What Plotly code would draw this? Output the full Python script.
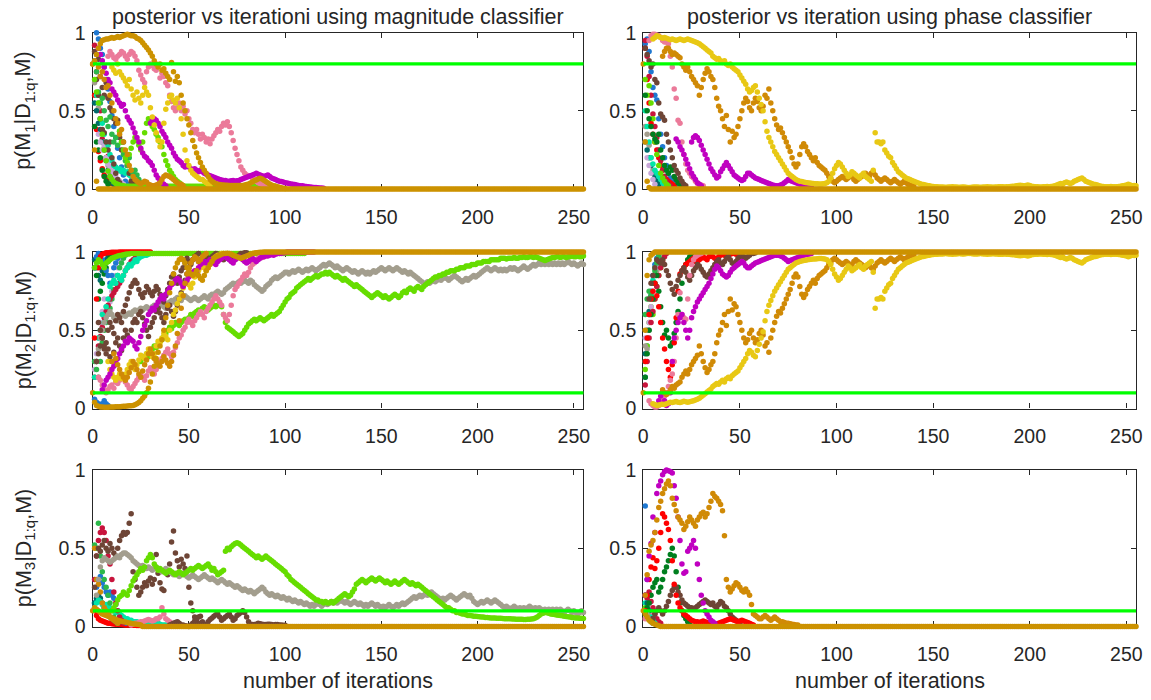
import plotly.graph_objects as go

N_ITER = 256
THRESHOLD = {"A": 0.8, "B": 0.8, "C": 0.1, "D": 0.1, "E": 0.1, "F": 0.1}
X_TICKS = [0, 50, 100, 150, 200, 250]
Y_TICKS = [0, 0.5, 1]
Y_TICK_TEXT = ["0", "0.5", "1"]
TITLES = ["posterior vs iterationi using magnitude classifier",
          "posterior vs iteration using phase classifier"]
Y_LABELS = ["p(M<sub>1</sub>|D<sub>1:q</sub>,M)",
            "p(M<sub>2</sub>|D<sub>1:q</sub>,M)",
            "p(M<sub>3</sub>|D<sub>1:q</sub>,M)"]
X_LABEL = "number of iterations"

A_blue = [0.82, 1.0, 0.96, 0.9, 0.86, 0.78, 0.7, 0.64, 0.56, 0.47, 0.4, 0.33, 0.26, 0.2, 0.14, 0.09, 0.05, 0.03, 0.02, 0.01]
A_red = [0.6, 0.38, 0.24, 0.18, 0.13, 0.09, 0.07, 0.05, 0.04, 0.035, 0.03, 0.028, 0.025, 0.022, 0.02, 0.018, 0.016, 0.014, 0.012, 0.011, 0.01, 0.009, 0.008, 0.007, 0.006, 0.005]
A_crimson = [0.92, 0.75, 0.6, 0.5, 0.32, 0.26, 0.2, 0.21, 0.12, 0.08, 0.05, 0.03, 0.02, 0.01]
A_gray = [0.68, 0.6, 0.52, 0.45, 0.35, 0.3, 0.2, 0.15, 0.1, 0.06, 0.04, 0.02]
A_teal = [0.55, 0.5, 0.42, 0.38, 0.3, 0.25, 0.18, 0.12, 0.08, 0.05, 0.03]
A_darkgreen = [0.4, 0.3, 0.25, 0.2, 0.12, 0.08, 0.05, 0.03]
A_lavender = [0.35, 0.3, 0.25, 0.28, 0.2, 0.16, 0.14, 0.12, 0.1, 0.08, 0.06, 0.05, 0.04, 0.03]
A_cyan = [0.6, 0.55, 0.45, 0.42, 0.35, 0.3, 0.28, 0.22, 0.18, 0.15, 0.14, 0.12, 0.13, 0.11, 0.12, 0.1, 0.11, 0.09, 0.08, 0.06, 0.05, 0.04, 0.03, 0.02]
A_brown = [0.88, 0.86, 0.83, 0.72, 0.65, 0.6, 0.68, 0.58, 0.52, 0.5, 0.45, 0.42, 0.44, 0.33, 0.25, 0.3, 0.22, 0.15, 0.1, 0.05, 0.03, 0.02, 0.01]
A_brown2 = [0.7, 0.6, 0.45, 0.38, 0.36, 0.3, 0.25, 0.3, 0.2, 0.16, 0.1, 0.06, 0.04, 0.02]
A_green = [0.75, 0.62, 0.55, 0.58, 0.5, 0.44, 0.4, 0.46, 0.35, 0.3, 0.33, 0.28, 0.37, 0.3, 0.22, 0.18, 0.15, 0.2, 0.12, 0.1, 0.12, 0.09, 0.06, 0.04, 0.02]
A_lime2 = [0.37, 0.3, 0.25, 0.2, 0.17, 0.22, 0.26, 0.3, 0.33, 0.31, 0.28, 0.25, 0.3, 0.36, 0.42, 0.45, 0.43, 0.4, 0.38, 0.35,
           0.33, 0.3, 0.27, 0.22, 0.18, 0.15, 0.12, 0.1, 0.08, 0.06, 0.05, 0.04, 0.03, 0.02]
A_lime = [0.7, 0.62, 0.55, 0.45, 0.35, 0.25, 0.18, 0.115, 0.08, 0.06, 0.045, 0.035, 0.03, 0.025, 0.022, 0.02]
A_pink = [0.85, 0.88, 0.86, 0.84, 0.83, 0.85, 0.86, 0.88, 0.87, 0.85, 0.83, 0.86, 0.88, 0.87, 0.85, 0.82, 0.76, 0.73, 0.7, 0.68,
          0.75, 0.78, 0.8, 0.79, 0.77, 0.76, 0.79, 0.71, 0.74, 0.72, 0.68, 0.66, 0.6, 0.56, 0.52, 0.5, 0.52, 0.55, 0.5, 0.53,
          0.48, 0.5, 0.45, 0.42, 0.38, 0.36, 0.38, 0.35, 0.32, 0.35, 0.33, 0.3, 0.32, 0.29, 0.32, 0.34, 0.36, 0.38, 0.37, 0.4,
          0.42, 0.41, 0.43, 0.4, 0.36, 0.31, 0.26, 0.22, 0.18, 0.14, 0.12, 0.1, 0.09, 0.085, 0.08, 0.07, 0.06, 0.05, 0.04, 0.035,
          0.03, 0.025, 0.02, 0.015]
A_magenta1 = [0.9, 0.86, 0.82, 0.78, 0.74, 0.7, 0.68, 0.64, 0.62, 0.6, 0.57, 0.55, 0.53, 0.54, 0.5, 0.46, 0.44, 0.42, 0.39, 0.36,
              0.33, 0.3, 0.26, 0.23, 0.21, 0.2, 0.18, 0.17, 0.15, 0.12, 0.09, 0.07, 0.05, 0.04, 0.03, 0.02]
A_magenta2 = [0.42, 0.44, 0.45, 0.44, 0.42, 0.4, 0.37, 0.35, 0.33, 0.3, 0.28, 0.26, 0.23, 0.21, 0.19, 0.18, 0.17, 0.15, 0.14, 0.15,
              0.14, 0.13, 0.12, 0.13, 0.12, 0.11, 0.12, 0.11, 0.1, 0.095, 0.09, 0.085, 0.08, 0.075, 0.07, 0.065, 0.06, 0.058, 0.055, 0.055,
              0.05, 0.05, 0.052, 0.055, 0.05, 0.052, 0.055, 0.06, 0.065, 0.07, 0.075, 0.08, 0.085, 0.09, 0.095, 0.1, 0.095, 0.09, 0.085, 0.08,
              0.085, 0.09, 0.08, 0.07, 0.065, 0.06, 0.055, 0.05, 0.048, 0.045, 0.04, 0.038, 0.035, 0.032, 0.03, 0.028, 0.025, 0.023, 0.021, 0.02,
              0.018, 0.016, 0.014, 0.012, 0.011, 0.01, 0.009, 0.008, 0.007, 0.006, 0.005]
A_yellow = [0.78, 0.76, 0.74, 0.8, 0.75, 0.73, 0.71, 0.69, 0.66, 0.7, 0.64, 0.6, 0.57, 0.62, 0.58, 0.55, 0.6, 0.65, 0.62, 0.6,
            0.52, 0.46, 0.41, 0.36, 0.31, 0.27, 0.3, 0.42, 0.51, 0.55, 0.59, 0.6, 0.57, 0.55, 0.58, 0.52, 0.45, 0.35, 0.25, 0.18,
            0.15, 0.12, 0.1, 0.09, 0.08, 0.07, 0.06, 0.06, 0.05, 0.04, 0.03, 0.02]
A_orange = [0.78, 0.72, 0.75, 0.7, 0.65, 0.66, 0.6, 0.55, 0.5, 0.45, 0.42, 0.35, 0.38, 0.3, 0.25, 0.22, 0.15, 0.12, 0.08, 0.06,
            0.05, 0.04, 0.035, 0.04, 0.05, 0.045, 0.03, 0.025, 0.02, 0.02, 0.025, 0.03, 0.04, 0.06, 0.08, 0.09, 0.085, 0.08, 0.07, 0.06,
            0.05, 0.04, 0.03, 0.03, 0.02]
A_gold = [0.8, 0.82, 0.86, 0.9, 0.93, 0.95, 0.955, 0.96, 0.96, 0.965, 0.97, 0.965, 0.97, 0.975, 0.97, 0.975, 0.98, 0.985, 0.99, 0.985,
          0.98, 0.98, 0.975, 0.965, 0.96, 0.95, 0.935, 0.92, 0.905, 0.89, 0.87, 0.85, 0.82, 0.8, 0.78, 0.8, 0.76, 0.77, 0.74, 0.72,
          0.7, 0.81, 0.75, 0.69, 0.72, 0.68, 0.6, 0.55, 0.5, 0.45, 0.41, 0.36, 0.31, 0.27, 0.23, 0.2, 0.17, 0.14, 0.12, 0.1,
          0.08, 0.06, 0.05, 0.04, 0.035, 0.03, 0.028, 0.026, 0.025, 0.024, 0.024, 0.023, 0.023, 0.022, 0.022, 0.022, 0.022, 0.022, 0.023, 0.025,
          0.028, 0.032, 0.038, 0.045, 0.052, 0.058, 0.064, 0.068, 0.064, 0.056, 0.048, 0.04, 0.032, 0.026, 0.021, 0.017, 0.014, 0.011, 0.008, 0.005, 0.003]
A_floor = [0.8, 0.25, 0.05, 0.0]

B_blue = [0.93, 0.96, 0.88, 0.75, 0.65, 0.6, 0.57, 0.45, 0.35, 0.27, 0.2, 0.15, 0.1, 0.07, 0.05, 0.03, 0.02]
B_red = [0.9, 0.7, 0.55, 0.42, 0.35, 0.3, 0.25, 0.2, 0.15, 0.12, 0.08, 0.06, 0.05, 0.04, 0.03, 0.02]
B_crimson = [0.95, 0.85, 0.72, 0.6, 0.48, 0.4, 0.33, 0.25, 0.18, 0.12, 0.08, 0.05, 0.03, 0.02]
B_gray = [0.4, 0.35, 0.28, 0.2, 0.12, 0.08, 0.05, 0.03, 0.02]
B_teal = [0.3, 0.25, 0.2, 0.15, 0.1, 0.07, 0.05, 0.03]
B_lavender = [0.3, 0.2, 0.15, 0.1, 0.06, 0.03]
B_cyan = [0.5, 0.4, 0.3, 0.2, 0.16, 0.12, 0.1, 0.08, 0.06, 0.04, 0.03, 0.02]
B_lime = [0.7, 0.6, 0.66, 0.55, 0.45, 0.3, 0.22, 0.15, 0.1, 0.07, 0.05, 0.03, 0.02]
B_darkgreen = [0.6, 0.5, 0.45, 0.4, 0.35, 0.32, 0.3, 0.35, 0.25, 0.2, 0.15, 0.12, 0.1, 0.14, 0.12, 0.08, 0.06, 0.04, 0.03, 0.02]
B_brown = [0.9, 0.86, 0.82, 0.78, 0.8, 0.7, 0.68, 0.55, 0.48, 0.46, 0.44, 0.35, 0.3, 0.25, 0.2, 0.15, 0.12, 0.1, 0.07, 0.05, 0.03, 0.02]
B_pink = [0.95, 0.98, 0.99, 0.99, 0.985, 0.98, 0.97, 0.95, 0.94, 0.94, 0.93, 0.85, 0.78, 0.64, 0.58, 0.44, 0.42, 0.3, 0.22, 0.16,
          0.12, 0.1, 0.08, 0.07, 0.05, 0.035, 0.03, 0.025, 0.02]
B_magenta1 = [0.32, 0.3, 0.27, 0.25, 0.22, 0.19, 0.16, 0.13, 0.1, 0.08, 0.06, 0.04, 0.03, 0.02]
B_magenta2 = [0.3, 0.33, 0.34, 0.33, 0.31, 0.28, 0.25, 0.22, 0.19, 0.16, 0.13, 0.11, 0.09, 0.07, 0.08, 0.11, 0.13, 0.15, 0.17, 0.15,
              0.13, 0.11, 0.09, 0.08, 0.07, 0.06, 0.055, 0.06, 0.08, 0.1, 0.1, 0.09, 0.08, 0.07, 0.065, 0.06, 0.055, 0.05, 0.045, 0.04,
              0.035, 0.03, 0.025, 0.022, 0.02, 0.02, 0.025, 0.03, 0.04, 0.05, 0.06, 0.055, 0.05, 0.045, 0.04, 0.035, 0.03, 0.025, 0.02, 0.018,
              0.015, 0.012, 0.01]
B_orange = [0.85, 0.88, 0.9, 0.9, 0.88, 0.86, 0.87, 0.86, 0.85, 0.84, 0.8, 0.78, 0.76, 0.78, 0.75, 0.72, 0.7, 0.68, 0.66, 0.6,
            0.65, 0.7, 0.74, 0.77, 0.75, 0.72, 0.7, 0.65, 0.58, 0.53, 0.5, 0.45, 0.4, 0.47, 0.38, 0.3, 0.37, 0.33, 0.35, 0.4,
            0.45, 0.5, 0.55, 0.58, 0.56, 0.52, 0.5, 0.55, 0.58, 0.56, 0.52, 0.5, 0.53, 0.6, 0.58, 0.64, 0.55, 0.5, 0.45, 0.41,
            0.38, 0.39, 0.36, 0.33, 0.3, 0.27, 0.24, 0.2, 0.16, 0.14, 0.16, 0.22, 0.27, 0.29, 0.27, 0.24, 0.22, 0.2, 0.18, 0.2,
            0.17, 0.15, 0.14, 0.13, 0.12, 0.1, 0.08, 0.07, 0.05, 0.04, 0.05, 0.06, 0.07, 0.08, 0.07, 0.06, 0.07, 0.09, 0.08, 0.06,
            0.05, 0.06, 0.07, 0.08, 0.09, 0.1, 0.09, 0.08, 0.1, 0.11, 0.09, 0.07, 0.06, 0.05, 0.06, 0.07, 0.06, 0.05, 0.04, 0.05,
            0.06, 0.05, 0.04, 0.03, 0.04, 0.05, 0.04, 0.03, 0.025, 0.02, 0.02]
B_yellow = [0.96, 0.97, 0.98, 0.975, 0.97, 0.965, 0.97, 0.965, 0.96, 0.955, 0.96, 0.955, 0.95, 0.955, 0.96, 0.955, 0.95, 0.955, 0.96, 0.955,
            0.95, 0.945, 0.94, 0.935, 0.93, 0.92, 0.91, 0.9, 0.89, 0.88, 0.87, 0.85, 0.84, 0.83, 0.835, 0.82, 0.81, 0.82, 0.8, 0.79,
            0.8, 0.78, 0.77, 0.76, 0.75, 0.73, 0.71, 0.69, 0.67, 0.64, 0.62, 0.63, 0.65, 0.66, 0.62, 0.58, 0.54, 0.5, 0.43, 0.37,
            0.33, 0.3, 0.27, 0.24, 0.22, 0.2, 0.18, 0.16, 0.14, 0.12, 0.1, 0.09, 0.08, 0.07, 0.06, 0.055, 0.05, 0.048, 0.045, 0.042,
            0.04, 0.038, 0.036, 0.035, 0.034, 0.033, 0.032, 0.032, 0.033, 0.035, 0.04, 0.05, 0.07, 0.1, 0.13, 0.15, 0.17, 0.16, 0.14, 0.12,
            0.1, 0.08, 0.09, 0.11, 0.1, 0.09, 0.08, 0.07, 0.09, 0.1, 0.08, 0.07, 0.06, 0.05, 0.12, 0.36, 0.3, 0.3, 0.29, 0.3,
            0.25, 0.23, 0.21, 0.2, 0.17, 0.15, 0.13, 0.11, 0.1, 0.09, 0.08, 0.07, 0.065, 0.06, 0.055, 0.05, 0.045, 0.04, 0.035, 0.03,
            0.028, 0.025, 0.022, 0.02, 0.018, 0.016, 0.015, 0.014, 0.013, 0.012, 0.012, 0.011, 0.011, 0.012, 0.013, 0.014, 0.013, 0.012, 0.011, 0.011,
            0.012, 0.012, 0.011, 0.01, 0.01, 0.011, 0.012, 0.013, 0.012, 0.011, 0.011, 0.012, 0.013, 0.014, 0.013, 0.012, 0.011, 0.012, 0.013, 0.014,
            0.015, 0.014, 0.013, 0.014, 0.015, 0.016, 0.017, 0.018, 0.02, 0.022, 0.024, 0.022, 0.02, 0.022, 0.025, 0.022, 0.018, 0.016, 0.015, 0.014,
            0.013, 0.013, 0.014, 0.015, 0.016, 0.015, 0.016, 0.018, 0.02, 0.025, 0.03, 0.035, 0.03, 0.04, 0.045, 0.04, 0.035, 0.04, 0.05, 0.055,
            0.06, 0.065, 0.07, 0.06, 0.05, 0.045, 0.04, 0.035, 0.03, 0.028, 0.025, 0.02, 0.018, 0.016, 0.015, 0.014, 0.015, 0.016, 0.015, 0.014,
            0.015, 0.016, 0.018, 0.02, 0.022, 0.025, 0.03, 0.025, 0.02, 0.022, 0.02, 0.015]
B_gold = [0.8, 0.3, 0.05, 0.01, 0.0]

C_blue2 = [0.06, 0.04, 0.03, 0.02, 0.03, 0.05, 0.03, 0.02]
C_teal = [0.95, 0.9, 0.85, 0.82, 0.88, 0.92, 0.95, 0.97, 0.99]
C_darkgreen = [0.9, 0.85, 0.7, 0.75, 0.8, 0.86, 0.9, 0.94, 0.97, 0.99]
C_lavender = [0.25, 0.35, 0.45, 0.55, 0.62, 0.7, 0.65, 0.6, 0.68, 0.75, 0.8, 0.85, 0.9, 0.94, 0.97]
C_green = [0.3, 0.25, 0.2, 0.3, 0.42, 0.5, 0.55, 0.6, 0.64, 0.7, 0.76, 0.8, 0.85, 0.9, 0.93, 0.96, 0.98]
C_crimson = [0.2, 0.3, 0.4, 0.46, 0.52, 0.58, 0.62, 0.66, 0.7, 0.72, 0.74, 0.76, 0.78, 0.8, 0.82, 0.85, 0.88, 0.9, 0.92, 0.94,
             0.95, 0.96, 0.97, 0.98, 0.985, 0.99]
C_blue = [0.9, 0.97, 0.99, 0.98, 0.95, 0.9, 0.88, 0.85, 0.8, 0.85, 0.9, 0.93, 0.96, 0.98, 0.99]
C_cyan = [0.2, 0.3, 0.45, 0.5, 0.6, 0.55, 0.65, 0.7, 0.78, 0.8, 0.82, 0.8, 0.85, 0.83, 0.82, 0.85, 0.88, 0.9, 0.92, 0.91,
          0.93, 0.95, 0.94, 0.96, 0.97, 0.975, 0.98, 0.98, 0.985, 0.99, 0.99]
C_red = [0.45, 0.7, 0.9, 0.97, 0.985, 0.99, 0.995, 0.995, 0.997, 0.998, 0.998, 0.999, 0.999, 1.0]
C_lime_top = [0.9, 0.93, 0.95, 0.94, 0.92, 0.9, 0.93, 0.94, 0.95, 0.96, 0.965, 0.97, 0.975, 0.978, 0.98, 0.982, 0.985, 0.987, 0.988]
C_gray = [0.3, 0.38, 0.45, 0.5, 0.55, 0.58, 0.6, 0.62, 0.6, 0.58, 0.57, 0.56, 0.58, 0.6, 0.6, 0.59, 0.6, 0.61, 0.6,
          0.62, 0.63, 0.62, 0.63, 0.64, 0.63, 0.64, 0.65, 0.64, 0.63, 0.65, 0.66, 0.65, 0.64, 0.66, 0.67, 0.65, 0.64, 0.66, 0.68,
          0.69, 0.68, 0.7, 0.71, 0.7, 0.69, 0.71, 0.72, 0.71, 0.7, 0.69, 0.7, 0.71, 0.7, 0.69, 0.7, 0.71, 0.72, 0.71, 0.7,
          0.72, 0.73, 0.72, 0.74, 0.75, 0.74, 0.73, 0.74, 0.76, 0.77, 0.78, 0.79, 0.8, 0.79, 0.8, 0.81, 0.8, 0.81, 0.82, 0.81,
          0.8, 0.82, 0.81, 0.79, 0.78, 0.77, 0.76, 0.75, 0.76, 0.78, 0.79, 0.8, 0.82, 0.83, 0.84, 0.83, 0.84, 0.85, 0.86, 0.87,
          0.87, 0.86, 0.87, 0.88, 0.87, 0.88, 0.89, 0.88, 0.87, 0.88, 0.89, 0.88, 0.89, 0.9, 0.89, 0.88, 0.89, 0.9, 0.91, 0.92,
          0.91, 0.92, 0.93, 0.92, 0.91, 0.9, 0.91, 0.9, 0.89, 0.88, 0.89, 0.9, 0.89, 0.88, 0.87, 0.88, 0.87, 0.86, 0.87, 0.88,
          0.87, 0.86, 0.87, 0.86, 0.87, 0.88, 0.87, 0.88, 0.89, 0.9, 0.89, 0.88, 0.89, 0.9, 0.89, 0.88, 0.89, 0.9, 0.89, 0.88,
          0.87, 0.88, 0.87, 0.86, 0.87, 0.86, 0.85, 0.84, 0.83, 0.82, 0.81, 0.8, 0.8, 0.81, 0.8, 0.81, 0.82, 0.81, 0.82, 0.83,
          0.82, 0.83, 0.84, 0.83, 0.82, 0.83, 0.84, 0.85, 0.84, 0.83, 0.82, 0.81, 0.82, 0.83, 0.82, 0.83, 0.84, 0.85, 0.84, 0.85,
          0.86, 0.87, 0.88, 0.89, 0.9, 0.89, 0.88, 0.89, 0.9, 0.89, 0.88, 0.89, 0.88, 0.89, 0.88, 0.89, 0.9, 0.89, 0.9, 0.89,
          0.88, 0.89, 0.9, 0.91, 0.9, 0.89, 0.9, 0.91, 0.92, 0.91, 0.92, 0.93, 0.92, 0.93, 0.92, 0.93, 0.92, 0.93, 0.92, 0.93,
          0.92, 0.93, 0.92, 0.93, 0.92, 0.93, 0.94, 0.93, 0.92, 0.93, 0.92, 0.91, 0.92, 0.93, 0.92, 0.91]
C_lime_long = [0.3, 0.32, 0.33, 0.35, 0.33, 0.36, 0.38, 0.4, 0.39, 0.41, 0.43, 0.44, 0.46, 0.48, 0.5, 0.52, 0.51, 0.53, 0.55, 0.54,
               0.53, 0.55, 0.56, 0.57, 0.56, 0.58, 0.6, 0.59, 0.61, 0.62, 0.63, 0.62, 0.64, 0.65, 0.64, 0.63, 0.64, 0.65, 0.66, 0.65,
               0.66, 0.67, 0.65, 0.6, 0.55, 0.52, 0.51, 0.5, 0.49, 0.48, 0.47, 0.46, 0.47, 0.48, 0.5, 0.52, 0.54, 0.55, 0.56, 0.57,
               0.56, 0.57, 0.58, 0.57, 0.56, 0.57, 0.58, 0.59, 0.6, 0.59, 0.6, 0.61, 0.62, 0.64, 0.66, 0.68, 0.7, 0.71, 0.73, 0.74,
               0.75, 0.77, 0.78, 0.79, 0.8, 0.81, 0.82, 0.83, 0.82, 0.83, 0.84, 0.85, 0.84, 0.85, 0.86, 0.86, 0.87, 0.86, 0.87, 0.86,
               0.85, 0.84, 0.85, 0.84, 0.83, 0.82, 0.83, 0.82, 0.81, 0.8, 0.79, 0.78, 0.79, 0.78, 0.77, 0.76, 0.75, 0.74, 0.73, 0.72,
               0.71, 0.72, 0.73, 0.74, 0.73, 0.72, 0.71, 0.72, 0.71, 0.7, 0.71, 0.72, 0.73, 0.72, 0.71, 0.72, 0.74, 0.75, 0.74, 0.76,
               0.77, 0.76, 0.75, 0.77, 0.78, 0.77, 0.76, 0.78, 0.79, 0.8, 0.81, 0.82, 0.83, 0.84, 0.84, 0.85, 0.85, 0.86, 0.86, 0.87,
               0.87, 0.88, 0.88, 0.88, 0.89, 0.89, 0.9, 0.9, 0.9, 0.91, 0.91, 0.91, 0.92, 0.92, 0.92, 0.93, 0.93, 0.93, 0.94, 0.94,
               0.94, 0.94, 0.95, 0.95, 0.95, 0.95, 0.95, 0.96, 0.96, 0.96, 0.955, 0.96, 0.96, 0.96, 0.965, 0.96, 0.96, 0.965, 0.965, 0.97,
               0.965, 0.965, 0.97, 0.97, 0.965, 0.97, 0.965, 0.96, 0.955, 0.95, 0.945, 0.95, 0.955, 0.96, 0.965, 0.965, 0.97, 0.97, 0.965, 0.97,
               0.97, 0.965, 0.97, 0.97, 0.975, 0.97, 0.97, 0.975, 0.97, 0.97, 0.975, 0.97]
C_brown = [0.3, 0.35, 0.4, 0.45, 0.38, 0.42, 0.5, 0.55, 0.52, 0.48, 0.56, 0.6, 0.58, 0.55, 0.62, 0.66, 0.7, 0.74, 0.78,
           0.8, 0.82, 0.8, 0.76, 0.73, 0.71, 0.74, 0.78, 0.76, 0.74, 0.72, 0.75, 0.78, 0.76, 0.73, 0.7, 0.68, 0.72, 0.76, 0.8,
           0.84, 0.86, 0.83, 0.8, 0.84, 0.88, 0.9, 0.93, 0.96, 0.94, 0.92, 0.95, 0.97, 0.96, 0.94, 0.95, 0.97, 0.98, 0.97, 0.96,
           0.95, 0.97, 0.98, 0.99, 0.985, 0.97, 0.96, 0.95, 0.96, 0.97, 0.98, 0.97, 0.96, 0.95, 0.97, 0.98, 0.99, 0.99, 0.995, 0.995]
C_brown2 = [0.55, 0.5, 0.45, 0.4, 0.35, 0.38, 0.33, 0.3, 0.36, 0.42, 0.45, 0.4, 0.37, 0.45, 0.5, 0.47, 0.44, 0.5,
            0.55, 0.57, 0.55, 0.6, 0.62, 0.58, 0.54, 0.5, 0.46, 0.52, 0.55, 0.58, 0.62, 0.64, 0.61, 0.58, 0.55, 0.6, 0.64, 0.66,
            0.62, 0.59, 0.62, 0.66, 0.7, 0.74, 0.78, 0.82, 0.86, 0.9, 0.93, 0.95, 0.97, 0.98, 0.99]
C_pink = [0.2, 0.18, 0.15, 0.12, 0.1, 0.12, 0.14, 0.15, 0.13, 0.17, 0.16, 0.18, 0.2, 0.19, 0.17, 0.15, 0.13, 0.12,
          0.14, 0.16, 0.18, 0.2, 0.22, 0.2, 0.18, 0.21, 0.24, 0.26, 0.24, 0.22, 0.25, 0.28, 0.3, 0.32, 0.34, 0.36, 0.38, 0.35,
          0.33, 0.36, 0.39, 0.42, 0.45, 0.47, 0.5, 0.52, 0.55, 0.57, 0.55, 0.53, 0.56, 0.58, 0.6, 0.62, 0.6, 0.58, 0.62, 0.64,
          0.66, 0.68, 0.7, 0.72, 0.7, 0.68, 0.66, 0.6, 0.58, 0.56, 0.6, 0.66, 0.72, 0.76, 0.78, 0.8, 0.82, 0.84, 0.86, 0.85,
          0.87, 0.9, 0.92, 0.93, 0.95, 0.96, 0.97, 0.965, 0.97, 0.975, 0.98, 0.985, 0.99, 0.99, 0.995]
C_yellow = [0.3, 0.25, 0.22, 0.2, 0.18, 0.2, 0.22, 0.19, 0.2, 0.22, 0.25, 0.28, 0.3, 0.27, 0.25, 0.28, 0.31, 0.34, 0.33, 0.32,
            0.35, 0.38, 0.36, 0.33, 0.35, 0.4, 0.43, 0.42, 0.45, 0.48, 0.46, 0.44, 0.5, 0.55, 0.6, 0.63, 0.67, 0.7, 0.73, 0.77,
            0.8, 0.82, 0.79, 0.77, 0.8, 0.84, 0.86, 0.88, 0.9, 0.92, 0.9, 0.88, 0.9, 0.93, 0.95, 0.96, 0.97, 0.98, 0.98, 0.99, 0.99]
C_magenta = [0.12, 0.15, 0.18, 0.2, 0.22, 0.25, 0.27, 0.3, 0.32, 0.35, 0.38, 0.4, 0.43, 0.42, 0.45, 0.44, 0.43, 0.4, 0.38, 0.42,
             0.46, 0.5, 0.53, 0.56, 0.6, 0.62, 0.64, 0.63, 0.66, 0.68, 0.7, 0.72, 0.7, 0.73, 0.75, 0.77, 0.79, 0.8, 0.82, 0.83,
             0.82, 0.8, 0.78, 0.8, 0.82, 0.84, 0.86, 0.87, 0.88, 0.87, 0.9, 0.92, 0.93, 0.94, 0.93, 0.94, 0.95, 0.94, 0.93, 0.92,
             0.94, 0.95, 0.96, 0.97, 0.97, 0.96, 0.95, 0.94, 0.93, 0.95, 0.96, 0.97, 0.96, 0.95, 0.94, 0.93, 0.94, 0.95, 0.96, 0.95,
             0.94, 0.95, 0.96, 0.97, 0.97, 0.98, 0.975, 0.98, 0.985, 0.98, 0.985, 0.99, 0.99, 0.992, 0.995, 0.996]
C_orange = [0.3, 0.35, 0.32, 0.28, 0.25, 0.22, 0.2, 0.18, 0.2, 0.23, 0.26, 0.3, 0.28, 0.25, 0.22, 0.2, 0.24, 0.28, 0.31, 0.35,
            0.38, 0.35, 0.32, 0.3, 0.28, 0.27, 0.3, 0.33, 0.31, 0.29, 0.27, 0.3, 0.34, 0.4, 0.48, 0.56, 0.64, 0.72, 0.8, 0.86,
            0.9, 0.93, 0.95, 0.97, 0.96, 0.94, 0.95, 0.97, 0.98, 0.99]
C_gold = [0.1, 0.04, 0.02, 0.015, 0.01, 0.01, 0.008, 0.008, 0.008, 0.009, 0.01, 0.01, 0.011, 0.012, 0.012, 0.013, 0.014, 0.015, 0.016, 0.017,
          0.018, 0.02, 0.024, 0.03, 0.038, 0.05, 0.065, 0.08, 0.1, 0.13, 0.17, 0.22, 0.27, 0.32, 0.36, 0.4, 0.44, 0.5, 0.58, 0.66,
          0.74, 0.8, 0.86, 0.9, 0.93, 0.95, 0.96, 0.95, 0.93, 0.9, 0.88, 0.86, 0.85, 0.86, 0.88, 0.85, 0.83, 0.82, 0.85, 0.88,
          0.9, 0.92, 0.94, 0.96, 0.97, 0.975, 0.98, 0.985, 0.99, 0.99, 0.992, 0.99, 0.985, 0.98, 0.975, 0.97, 0.965, 0.96, 0.965, 0.97,
          0.975, 0.98, 0.985, 0.99, 0.993, 0.995, 0.997, 0.998, 0.999, 1.0]

D_blue = [0.2, 0.4, 0.6, 0.75, 0.85, 0.92, 0.96, 0.98, 0.99]
D_teal = [0.35, 0.5, 0.62, 0.72, 0.8, 0.85, 0.9, 0.93, 0.96, 0.98]
D_lime = [0.25, 0.4, 0.55, 0.65, 0.6, 0.7, 0.78, 0.85, 0.9, 0.95, 0.98]
D_cyan = [0.3, 0.45, 0.6, 0.7, 0.82, 0.9, 0.95, 0.97, 0.99]
D_gray = [0.4, 0.38, 0.5, 0.6, 0.7, 0.8, 0.88, 0.94, 0.97]
D_lavender = [0.45, 0.5, 0.55, 0.65, 0.75, 0.85, 0.9, 0.95]
D_crimson = [0.15, 0.3, 0.45, 0.55, 0.62, 0.7, 0.78, 0.85, 0.9, 0.94, 0.97, 0.99]
D_green = [0.6, 0.7, 0.75, 0.72, 0.8, 0.88, 0.93, 0.97]
D_darkgreen = [0.2, 0.35, 0.5, 0.6, 0.7, 0.8, 0.85, 0.75, 0.65, 0.55, 0.47, 0.5, 0.45, 0.4, 0.42, 0.48, 0.55, 0.62, 0.7, 0.8,
               0.88, 0.92, 0.95, 0.97, 0.98]
D_red = [0.3, 0.45, 0.6, 0.7, 0.75, 0.8, 0.72, 0.65, 0.55, 0.45, 0.38, 0.3, 0.25, 0.2, 0.28, 0.42, 0.58, 0.75, 0.86, 0.88,
         0.9, 0.92, 0.93, 0.94, 0.95, 0.96, 0.94, 0.93, 0.95, 0.96, 0.97, 0.96, 0.95, 0.97, 0.98, 0.97, 0.96, 0.95, 0.97, 0.98,
         0.985, 0.98, 0.975, 0.98, 0.985, 0.99, 0.99, 0.985, 0.99, 0.995]
D_brown = [0.7, 0.8, 0.85, 0.9, 0.95, 0.94, 0.93, 0.95, 0.92, 0.88, 0.85, 0.8, 0.76, 0.73, 0.78, 0.82, 0.85, 0.88,
           0.9, 0.87, 0.84, 0.82, 0.85, 0.88, 0.9, 0.92, 0.91, 0.89, 0.87, 0.85, 0.84, 0.86, 0.88, 0.9, 0.92, 0.94, 0.95, 0.93,
           0.92, 0.94, 0.96, 0.97, 0.95, 0.93, 0.92, 0.94, 0.96, 0.97, 0.98, 0.97, 0.96, 0.97, 0.98, 0.99, 0.99, 0.995]
D_pink = [0.05, 0.03, 0.02, 0.01, 0.01, 0.02, 0.04, 0.06, 0.08, 0.1, 0.14, 0.18, 0.22, 0.3, 0.45, 0.6, 0.74, 0.6, 0.58, 0.57,
          0.7, 0.85, 0.92, 0.95, 0.97, 0.98, 0.985, 0.99]
D_magenta = [0.05, 0.08, 0.1, 0.05, 0.02, 0.03, 0.1, 0.3, 0.45, 0.5, 0.55, 0.58, 0.6, 0.55, 0.5, 0.45, 0.5, 0.58, 0.62, 0.65,
             0.68, 0.7, 0.72, 0.74, 0.76, 0.78, 0.8, 0.83, 0.86, 0.89, 0.91, 0.9, 0.88, 0.86, 0.85, 0.84, 0.85, 0.87, 0.89, 0.9,
             0.91, 0.92, 0.93, 0.94, 0.93, 0.91, 0.9, 0.9, 0.91, 0.92, 0.93, 0.935, 0.94, 0.945, 0.95, 0.955, 0.96, 0.965, 0.97, 0.975,
             0.98, 0.98, 0.98, 0.975, 0.97, 0.96, 0.95, 0.94, 0.945, 0.95, 0.955, 0.96, 0.965, 0.97, 0.975, 0.98, 0.982, 0.985, 0.988, 0.99]
D_orange = [0.12, 0.1, 0.09, 0.1, 0.12, 0.14, 0.13, 0.15, 0.16, 0.17, 0.2, 0.22, 0.24, 0.22, 0.25, 0.28, 0.3, 0.32, 0.34, 0.4,
            0.35, 0.3, 0.26, 0.23, 0.25, 0.28, 0.3, 0.35, 0.42, 0.47, 0.5, 0.55, 0.6, 0.53, 0.62, 0.7, 0.63, 0.67, 0.65, 0.6,
            0.55, 0.5, 0.45, 0.42, 0.44, 0.48, 0.5, 0.45, 0.42, 0.44, 0.48, 0.5, 0.47, 0.4, 0.42, 0.36, 0.45, 0.5, 0.55, 0.59,
            0.62, 0.61, 0.64, 0.67, 0.7, 0.73, 0.76, 0.8, 0.84, 0.86, 0.84, 0.78, 0.73, 0.71, 0.73, 0.76, 0.78, 0.8, 0.82, 0.8,
            0.83, 0.85, 0.86, 0.87, 0.88, 0.9, 0.92, 0.93, 0.95, 0.96, 0.95, 0.94, 0.93, 0.92, 0.93, 0.94, 0.93, 0.91, 0.92, 0.94,
            0.95, 0.94, 0.93, 0.92, 0.91, 0.9, 0.91, 0.92, 0.9, 0.89, 0.91, 0.93, 0.94, 0.95, 0.94, 0.93, 0.94, 0.95, 0.96, 0.95,
            0.94, 0.95, 0.96, 0.97, 0.96, 0.95, 0.96, 0.97, 0.975, 0.98, 0.98]
D_yellow = [0.03, 0.025, 0.02, 0.022, 0.025, 0.028, 0.025, 0.03, 0.035, 0.04, 0.038, 0.042, 0.045, 0.04, 0.038, 0.042, 0.046, 0.044, 0.04, 0.043,
            0.047, 0.05, 0.055, 0.06, 0.065, 0.075, 0.085, 0.095, 0.105, 0.115, 0.125, 0.14, 0.15, 0.16, 0.155, 0.17, 0.18, 0.17, 0.19, 0.2,
            0.19, 0.21, 0.22, 0.23, 0.24, 0.26, 0.28, 0.3, 0.32, 0.35, 0.37, 0.36, 0.34, 0.33, 0.37, 0.41, 0.45, 0.49, 0.56, 0.62,
            0.66, 0.69, 0.72, 0.75, 0.77, 0.79, 0.81, 0.83, 0.85, 0.87, 0.89, 0.9, 0.91, 0.92, 0.93, 0.935, 0.94, 0.942, 0.945, 0.948,
            0.95, 0.952, 0.954, 0.955, 0.956, 0.957, 0.958, 0.958, 0.957, 0.955, 0.95, 0.94, 0.92, 0.89, 0.86, 0.84, 0.82, 0.83, 0.85, 0.87,
            0.89, 0.91, 0.9, 0.88, 0.89, 0.9, 0.91, 0.92, 0.9, 0.89, 0.91, 0.92, 0.93, 0.94, 0.87, 0.64, 0.7, 0.7, 0.71, 0.7,
            0.75, 0.77, 0.79, 0.8, 0.83, 0.85, 0.87, 0.89, 0.9, 0.91, 0.92, 0.93, 0.935, 0.94, 0.945, 0.95, 0.955, 0.96, 0.965, 0.97,
            0.972, 0.975, 0.978, 0.98, 0.982, 0.984, 0.985, 0.986, 0.987, 0.988, 0.988, 0.989, 0.989, 0.988, 0.987, 0.986, 0.987, 0.988, 0.989, 0.989,
            0.988, 0.988, 0.989, 0.99, 0.99, 0.989, 0.988, 0.987, 0.988, 0.989, 0.989, 0.988, 0.987, 0.986, 0.987, 0.988, 0.989, 0.988, 0.987, 0.986,
            0.985, 0.986, 0.987, 0.986, 0.985, 0.984, 0.983, 0.982, 0.98, 0.978, 0.976, 0.978, 0.98, 0.978, 0.975, 0.978, 0.982, 0.984, 0.985, 0.986,
            0.987, 0.987, 0.986, 0.985, 0.984, 0.985, 0.984, 0.982, 0.98, 0.975, 0.97, 0.965, 0.97, 0.96, 0.955, 0.96, 0.965, 0.96, 0.95, 0.945,
            0.94, 0.935, 0.93, 0.94, 0.95, 0.955, 0.96, 0.965, 0.97, 0.972, 0.975, 0.98, 0.982, 0.984, 0.985, 0.986, 0.985, 0.984, 0.985, 0.986,
            0.985, 0.984, 0.982, 0.98, 0.978, 0.975, 0.97, 0.975, 0.98, 0.978, 0.98, 0.985]
D_gold = [0.1, 0.5, 0.85, 0.95, 0.98, 0.99, 1.0]

E_red = [0.1, 0.07, 0.05, 0.04, 0.035, 0.03, 0.025, 0.02, 0.02, 0.018, 0.016, 0.015, 0.014, 0.013, 0.012, 0.011, 0.01, 0.01, 0.009, 0.009,
         0.008, 0.008, 0.007, 0.007, 0.006]
E_blue = [0.15, 0.25, 0.3, 0.32, 0.28, 0.25, 0.22, 0.2, 0.22, 0.2, 0.18, 0.14, 0.1, 0.07, 0.05, 0.03, 0.02]
E_teal = [0.15, 0.18, 0.2, 0.18, 0.15, 0.12, 0.1, 0.08, 0.06, 0.05, 0.04, 0.03, 0.02]
E_cyan = [0.12, 0.15, 0.17, 0.16, 0.14, 0.12, 0.14, 0.13, 0.12, 0.11, 0.1, 0.09, 0.1, 0.08, 0.07, 0.06, 0.05, 0.05, 0.04, 0.04,
          0.03, 0.03, 0.03, 0.02, 0.02, 0.02, 0.02, 0.03, 0.02, 0.02, 0.02, 0.015, 0.02, 0.02, 0.015, 0.01, 0.01, 0.01, 0.01, 0.01]
E_crimson = [0.3, 0.45, 0.55, 0.6, 0.63, 0.6, 0.55, 0.45, 0.4, 0.3, 0.22, 0.15, 0.1, 0.06, 0.04, 0.02]
E_green = [0.52, 0.5, 0.66, 0.45, 0.35, 0.3, 0.25, 0.2, 0.15, 0.1, 0.06, 0.04, 0.02]
E_orange = [0.5, 0.3, 0.27, 0.22, 0.15, 0.12, 0.1, 0.08, 0.06, 0.05, 0.04, 0.03, 0.02]
E_pink = [0.01, 0.015, 0.02, 0.02, 0.025, 0.03, 0.03, 0.035, 0.04, 0.045, 0.04, 0.035, 0.04, 0.05, 0.05, 0.06, 0.12, 0.08, 0.05, 0.04,
          0.03, 0.02, 0.015, 0.01]
E_brown1 = [0.25, 0.45, 0.5, 0.48, 0.52, 0.55, 0.5, 0.48, 0.53, 0.5, 0.47, 0.45, 0.5, 0.55, 0.58, 0.6, 0.59, 0.6, 0.66, 0.72,
            0.35, 0.3, 0.25, 0.2, 0.22, 0.25, 0.28, 0.26, 0.29, 0.31, 0.27, 0.3, 0.46, 0.34, 0.28, 0.24, 0.23, 0.36, 0.33, 0.4,
            0.54, 0.61, 0.47, 0.42, 0.38, 0.43, 0.4, 0.37, 0.45, 0.25, 0.15, 0.1, 0.06, 0.03, 0.02]
E_brown2 = [0.01, 0.015, 0.02, 0.025, 0.03, 0.02, 0.01, 0.01, 0.005, 0.003, 0.0, 0.01, 0.02, 0.035, 0.05, 0.06, 0.065, 0.03, 0.01, 0.015,
            0.03, 0.045, 0.055, 0.065, 0.075, 0.08, 0.06, 0.04, 0.05, 0.06, 0.07, 0.08, 0.06, 0.04, 0.05, 0.07, 0.08, 0.09, 0.1, 0.09,
            0.06, 0.03, 0.015, 0.012, 0.012, 0.015, 0.02, 0.018, 0.015, 0.012, 0.012, 0.015, 0.015, 0.012, 0.01, 0.012, 0.012, 0.01, 0.01, 0.008, 0.008]
E_gray = [0.12, 0.2, 0.3, 0.38, 0.42, 0.44, 0.43, 0.42, 0.41, 0.42, 0.43, 0.44, 0.45, 0.44, 0.46, 0.47, 0.47, 0.46, 0.45, 0.44,
          0.42, 0.41, 0.4, 0.39, 0.38, 0.39, 0.38, 0.37, 0.38, 0.37, 0.36, 0.37, 0.38, 0.37, 0.36, 0.35, 0.36, 0.37, 0.36, 0.35,
          0.34, 0.33, 0.34, 0.33, 0.32, 0.33, 0.34, 0.33, 0.32, 0.31, 0.32, 0.33, 0.32, 0.31, 0.3, 0.31, 0.32, 0.33, 0.32, 0.31,
          0.3, 0.31, 0.3, 0.29, 0.28, 0.29, 0.3, 0.29, 0.28, 0.27, 0.28, 0.27, 0.26, 0.25, 0.26, 0.25, 0.24, 0.23, 0.24, 0.23,
          0.22, 0.23, 0.22, 0.21, 0.22, 0.23, 0.24, 0.25, 0.24, 0.22, 0.21, 0.2, 0.21, 0.2, 0.19, 0.2, 0.19, 0.18, 0.19, 0.18,
          0.17, 0.18, 0.17, 0.16, 0.17, 0.16, 0.15, 0.16, 0.15, 0.14, 0.15, 0.14, 0.13, 0.14, 0.13, 0.14, 0.15, 0.14, 0.13, 0.14,
          0.15, 0.14, 0.15, 0.16, 0.15, 0.16, 0.15, 0.16, 0.17, 0.16, 0.15, 0.16, 0.15, 0.14, 0.15, 0.16, 0.15, 0.14, 0.15, 0.14,
          0.13, 0.14, 0.13, 0.14, 0.15, 0.14, 0.13, 0.14, 0.13, 0.12, 0.13, 0.12, 0.13, 0.14, 0.13, 0.12, 0.13, 0.14, 0.13, 0.14,
          0.15, 0.14, 0.15, 0.16, 0.17, 0.18, 0.19, 0.18, 0.19, 0.2, 0.19, 0.2, 0.21, 0.2, 0.21, 0.22, 0.21, 0.2, 0.19, 0.18,
          0.17, 0.18, 0.17, 0.18, 0.19, 0.2, 0.19, 0.18, 0.17, 0.18, 0.19, 0.2, 0.21, 0.2, 0.19, 0.2, 0.18, 0.16, 0.15, 0.14,
          0.15, 0.16, 0.15, 0.16, 0.17, 0.16, 0.15, 0.16, 0.17, 0.16, 0.15, 0.14, 0.13, 0.12, 0.13, 0.12, 0.11, 0.12, 0.13, 0.12,
          0.11, 0.12, 0.11, 0.12, 0.11, 0.12, 0.13, 0.12, 0.11, 0.12, 0.11, 0.12, 0.11, 0.1, 0.11, 0.1, 0.11, 0.1, 0.11, 0.1,
          0.11, 0.1, 0.11, 0.1, 0.09, 0.1, 0.11, 0.1, 0.09, 0.1, 0.09, 0.08, 0.09, 0.1, 0.09, 0.08]
E_lime = [0.1, 0.12, 0.14, 0.17, 0.19, 0.2, 0.22, 0.21, 0.2, 0.23, 0.26, 0.29, 0.31, 0.33, 0.35, 0.37, 0.36, 0.38, 0.42, 0.44,
          0.46, 0.44, 0.4, 0.38, 0.36, 0.37, 0.36, 0.35, 0.34, 0.35, 0.36, 0.35, 0.34, 0.33, 0.34, 0.35, 0.34, 0.33, 0.34, 0.35,
          0.36, 0.37, 0.36, 0.37, 0.38, 0.39, 0.38, 0.37, 0.38, 0.39, 0.4, 0.38, 0.36, 0.37, 0.35, 0.33, 0.34, 0.35, 0.36, 0.48,
          0.5, 0.49, 0.51, 0.52, 0.53, 0.535, 0.53, 0.52, 0.51, 0.5, 0.49, 0.48, 0.47, 0.46, 0.45, 0.44, 0.45, 0.44, 0.43, 0.44,
          0.45, 0.44, 0.43, 0.42, 0.41, 0.4, 0.39, 0.38, 0.37, 0.36, 0.35, 0.33, 0.32, 0.3, 0.29, 0.28, 0.27, 0.26, 0.25, 0.24,
          0.23, 0.22, 0.21, 0.2, 0.19, 0.18, 0.17, 0.17, 0.16, 0.16, 0.15, 0.16, 0.15, 0.15, 0.16, 0.15, 0.16, 0.17, 0.18, 0.19,
          0.2, 0.21, 0.2, 0.19, 0.2, 0.22, 0.24, 0.27, 0.28, 0.29, 0.3, 0.29, 0.28, 0.29, 0.3, 0.31, 0.3, 0.29, 0.3, 0.31,
          0.3, 0.29, 0.28, 0.29, 0.28, 0.27, 0.28, 0.29, 0.28, 0.27, 0.28, 0.29, 0.3, 0.29, 0.28, 0.27, 0.28, 0.27, 0.26, 0.27,
          0.26, 0.25, 0.24, 0.23, 0.22, 0.21, 0.2, 0.19, 0.18, 0.17, 0.16, 0.15, 0.14, 0.13, 0.12, 0.12, 0.11, 0.1, 0.1, 0.09,
          0.09, 0.085, 0.08, 0.08, 0.075, 0.07, 0.07, 0.068, 0.066, 0.065, 0.064, 0.062, 0.06, 0.06, 0.058, 0.057, 0.056, 0.055, 0.055, 0.054,
          0.053, 0.052, 0.052, 0.051, 0.05, 0.05, 0.05, 0.049, 0.048, 0.048, 0.047, 0.047, 0.046, 0.046, 0.045, 0.045, 0.046, 0.047, 0.048, 0.05,
          0.055, 0.06, 0.07, 0.08, 0.085, 0.09, 0.088, 0.085, 0.08, 0.078, 0.076, 0.074, 0.072, 0.07, 0.068, 0.066, 0.064, 0.062, 0.06, 0.058,
          0.056, 0.055, 0.054, 0.053, 0.052, 0.051, 0.05]
E_gold = [0.1, 0.12, 0.11, 0.1, 0.09, 0.08, 0.075, 0.07, 0.065, 0.06, 0.055, 0.05, 0.045, 0.04, 0.037, 0.034, 0.031, 0.028, 0.025, 0.022,
          0.02, 0.018, 0.016, 0.014, 0.012, 0.01, 0.0]

F_blue = [0.77, 0.3, 0.15, 0.1, 0.06, 0.04, 0.03, 0.02]
F_pink = [0.05, 0.1, 0.15, 0.08, 0.05, 0.03, 0.02]
F_crimson = [0.2, 0.18, 0.22, 0.16, 0.12, 0.08, 0.05, 0.03, 0.02]
F_cyan = [0.15, 0.12, 0.1, 0.06, 0.04, 0.02]
F_lime = [0.12, 0.08, 0.05, 0.03]
F_teal = [0.2, 0.15, 0.1, 0.05, 0.02]
F_gray = [0.1, 0.08, 0.05, 0.03, 0.02]
F_darkgreen = [0.08, 0.12, 0.15, 0.2, 0.25, 0.28, 0.3, 0.22, 0.25, 0.3, 0.35, 0.38, 0.42, 0.46, 0.5, 0.45, 0.35, 0.25, 0.15, 0.1,
               0.07, 0.05, 0.03, 0.02]
F_brown = [0.05, 0.08, 0.1, 0.12, 0.1, 0.08, 0.1, 0.13, 0.16, 0.2, 0.23, 0.25, 0.25, 0.22, 0.2, 0.17, 0.15, 0.14, 0.13, 0.12,
           0.12, 0.11, 0.12, 0.13, 0.14, 0.15, 0.16, 0.17, 0.16, 0.15, 0.14, 0.15, 0.13, 0.12, 0.14, 0.16, 0.15, 0.13, 0.12, 0.1,
           0.08, 0.06, 0.05, 0.04, 0.03, 0.02]
F_red = [0.1, 0.2, 0.3, 0.38, 0.44, 0.37, 0.42, 0.5, 0.6, 0.72, 0.7, 0.66, 0.62, 0.55, 0.42, 0.27, 0.2, 0.15, 0.12, 0.1,
         0.08, 0.07, 0.06, 0.05, 0.04, 0.035, 0.03, 0.03, 0.025, 0.03, 0.035, 0.03, 0.025, 0.02, 0.02, 0.02, 0.015, 0.015, 0.02, 0.025,
         0.03, 0.035, 0.04, 0.045, 0.05, 0.045, 0.04, 0.035, 0.03, 0.035, 0.04, 0.035, 0.03, 0.025, 0.02, 0.015, 0.01]
F_magenta = [0.2, 0.3, 0.45, 0.53, 0.7, 0.6, 0.85, 0.9, 0.93, 0.97, 0.99, 1.0, 0.995, 0.99, 0.98, 0.9, 0.82, 0.7, 0.55, 0.4,
             0.34, 0.35, 0.48, 0.5, 0.52, 0.55, 0.5, 0.4, 0.3, 0.2, 0.15, 0.1, 0.08, 0.06, 0.04, 0.03, 0.02]
F_orange = [0.2, 0.33, 0.48, 0.52, 0.55, 0.6, 0.68, 0.76, 0.8, 0.85, 0.88, 0.91, 0.93, 0.9, 0.82, 0.78, 0.74, 0.7, 0.68, 0.66,
            0.62, 0.64, 0.67, 0.7, 0.68, 0.66, 0.64, 0.68, 0.7, 0.72, 0.73, 0.7, 0.72, 0.76, 0.8, 0.85, 0.83, 0.82, 0.8, 0.78,
            0.74, 0.58, 0.3, 0.25, 0.22, 0.24, 0.26, 0.28, 0.27, 0.25, 0.23, 0.22, 0.24, 0.22, 0.2, 0.14, 0.08, 0.07, 0.06, 0.05,
            0.05, 0.06, 0.07, 0.06, 0.05, 0.04, 0.05, 0.06, 0.05, 0.04, 0.03, 0.03, 0.025, 0.02, 0.02, 0.018, 0.015, 0.012, 0.01, 0.01]
F_gold = [0.1, 0.08, 0.06, 0.04, 0.03, 0.02, 0.015, 0.01, 0.005, 0.0]

# (panel, colour key, values, first iteration, flat tail (value, last iteration) or None)
SERIES = [
    ("A", "blue", A_blue, 1, None), ("A", "red", A_red, 1, None), ("A", "crimson", A_crimson, 1, None),
    ("A", "gray", A_gray, 1, None), ("A", "teal", A_teal, 1, None), ("A", "darkgreen", A_darkgreen, 1, None),
    ("A", "lavender", A_lavender, 3, None), ("A", "cyan", A_cyan, 2, None), ("A", "brown", A_brown, 1, None),
    ("A", "brown", A_brown2, 2, None), ("A", "green", A_green, 2, None), ("A", "lime", A_lime2, 14, None),
    ("A", "lime", A_lime, 1, (0.018, 95)), ("A", "pink", A_pink, 8, None), ("A", "magenta", A_magenta1, 3, None),
    ("A", "magenta", A_magenta2, 30, None), ("A", "yellow", A_yellow, 10, None), ("A", "orange", A_orange, 3, None),
    ("A", "gold", A_gold, 0, None), ("A", "gold", A_floor, 0, (0.0, N_ITER)),

    ("B", "blue", B_blue, 1, None), ("B", "red", B_red, 1, None), ("B", "crimson", B_crimson, 1, None),
    ("B", "gray", B_gray, 1, None), ("B", "teal", B_teal, 1, None), ("B", "lavender", B_lavender, 1, None),
    ("B", "cyan", B_cyan, 1, None), ("B", "lime", B_lime, 1, None), ("B", "darkgreen", B_darkgreen, 1, None),
    ("B", "brown", B_brown, 1, None), ("B", "pink", B_pink, 3, None), ("B", "magenta", B_magenta1, 17, None),
    ("B", "magenta", B_magenta2, 25, None), ("B", "orange", B_orange, 10, None), ("B", "yellow", B_yellow, 5, None),
    ("B", "gold", B_gold, 0, (0.0, N_ITER)),

    ("C", "blue", C_blue2, 1, None), ("C", "teal", C_teal, 1, None), ("C", "darkgreen", C_darkgreen, 1, None),
    ("C", "lavender", C_lavender, 1, None), ("C", "green", C_green, 1, None), ("C", "crimson", C_crimson, 1, None),
    ("C", "blue", C_blue, 1, None), ("C", "cyan", C_cyan, 1, None), ("C", "red", C_red, 1, (1.0, 30)),
    ("C", "lime", C_lime_top, 1, (0.99, 110)), ("C", "gray", C_gray, 2, None), ("C", "lime", C_lime_long, 25, None),
    ("C", "brown", C_brown, 2, None), ("C", "brown", C_brown2, 3, None), ("C", "pink", C_pink, 3, None),
    ("C", "yellow", C_yellow, 8, None), ("C", "magenta", C_magenta, 5, (1.0, 115)), ("C", "orange", C_orange, 10, None),
    ("C", "gold", C_gold, 0, (1.0, N_ITER)),

    ("D", "blue", D_blue, 1, None), ("D", "teal", D_teal, 1, None), ("D", "lime", D_lime, 1, None),
    ("D", "cyan", D_cyan, 1, None), ("D", "gray", D_gray, 1, None), ("D", "lavender", D_lavender, 1, None),
    ("D", "crimson", D_crimson, 1, None), ("D", "green", D_green, 1, None), ("D", "darkgreen", D_darkgreen, 1, None),
    ("D", "red", D_red, 1, None), ("D", "brown", D_brown, 3, None), ("D", "pink", D_pink, 3, None),
    ("D", "magenta", D_magenta, 8, None), ("D", "orange", D_orange, 10, None), ("D", "yellow", D_yellow, 5, None),
    ("D", "gold", D_gold, 0, (1.0, N_ITER)),

    ("E", "red", E_red, 1, None), ("E", "blue", E_blue, 1, None), ("E", "teal", E_teal, 1, None),
    ("E", "cyan", E_cyan, 1, None), ("E", "crimson", E_crimson, 1, None), ("E", "green", E_green, 1, None),
    ("E", "orange", E_orange, 1, None), ("E", "pink", E_pink, 20, None), ("E", "brown", E_brown1, 1, None),
    ("E", "brown", E_brown2, 40, None), ("E", "gray", E_gray, 1, None), ("E", "lime", E_lime, 10, None),
    ("E", "gold", E_gold, 0, (0.0, N_ITER)),

    ("F", "blue", F_blue, 1, None), ("F", "pink", F_pink, 1, None), ("F", "crimson", F_crimson, 1, None),
    ("F", "cyan", F_cyan, 1, None), ("F", "lime", F_lime, 1, None), ("F", "teal", F_teal, 1, None),
    ("F", "gray", F_gray, 1, None), ("F", "darkgreen", F_darkgreen, 1, None), ("F", "brown", F_brown, 5, None),
    ("F", "red", F_red, 1, None), ("F", "magenta", F_magenta, 1, None), ("F", "orange", F_orange, 1, None),
    ("F", "gold", F_gold, 0, (0.0, N_ITER)),
]

COLORS = {
    "blue": "#1F78D1", "red": "#FF0000", "crimson": "#C8143C", "darkgreen": "#007F1F",
    "green": "#2CB84A", "lime": "#66DD00", "gray": "#A39E8E", "brown": "#6E4536",
    "magenta": "#C000C0", "pink": "#EB7A9A", "yellow": "#E8C814", "orange": "#D08A06",
    "gold": "#CC9200", "cyan": "#00E6A8", "teal": "#006B6B", "lavender": "#C8A8D8",
}
TEXT = "#262626"
FONT = "Liberation Sans, Arial, Helvetica, sans-serif"
MARKER_SIZE = 5.5
PANEL_AXES = {"A": ("x", "y"), "B": ("x2", "y2"), "C": ("x3", "y3"),
              "D": ("x4", "y4"), "E": ("x5", "y5"), "F": ("x6", "y6")}
COL_DOMAIN = [[0.0805, 0.5069], [0.5589, 0.9870]]
ROW_DOMAIN = [[0.7300, 0.9533], [0.4164, 0.6400], [0.1050, 0.3286]]

fig = go.Figure()
for panel, ckey, vals, first, tail in SERIES:
    ys = list(vals)
    if tail is not None:
        last_given = first + len(vals) - 1
        ys += [tail[0]] * (tail[1] - last_given)
    xs = list(range(first, first + len(ys)))
    xa, ya = PANEL_AXES[panel]
    fig.add_trace(go.Scatter(x=xs, y=ys, mode="markers", xaxis=xa, yaxis=ya,
                             marker=dict(size=MARKER_SIZE, color=COLORS[ckey], line=dict(width=0)),
                             cliponaxis=False, showlegend=False, hoverinfo="skip"))

for panel, (xa, ya) in PANEL_AXES.items():
    fig.add_trace(go.Scatter(x=[0, N_ITER], y=[THRESHOLD[panel]] * 2, mode="lines", xaxis=xa, yaxis=ya,
                             line=dict(color="#00FF00", width=3.3), showlegend=False, hoverinfo="skip"))

layout = dict(template="none", width=1151, height=700, autosize=False,
              margin=dict(l=0, r=0, t=0, b=0, pad=0, autoexpand=False),
              paper_bgcolor="white", plot_bgcolor="white", showlegend=False,
              font=dict(family=FONT, color=TEXT))
for i in range(6):
    r, c = divmod(i, 2)
    sfx = "" if i == 0 else str(i + 1)
    common = dict(showline=True, linecolor=TEXT, linewidth=1.3, mirror="allticks",
                  ticks="inside", ticklen=5, tickwidth=1, tickcolor=TEXT,
                  showgrid=False, zeroline=False, layer="below traces", automargin=False,
                  tickfont=dict(family=FONT, size=19.5, color=TEXT))
    layout["xaxis" + sfx] = dict(common, domain=COL_DOMAIN[c], range=[0, 255], tickvals=X_TICKS,
                                 anchor="y" + sfx, ticklabelstandoff=10)
    layout["yaxis" + sfx] = dict(common, domain=ROW_DOMAIN[r], range=[0, 1], tickvals=Y_TICKS,
                                 ticktext=Y_TICK_TEXT, anchor="x" + sfx, ticklabelstandoff=2)

ann = []
for c in range(2):
    xc = (COL_DOMAIN[c][0] + COL_DOMAIN[c][1]) / 2
    ann.append(dict(text=TITLES[c], x=xc, y=1 - 17 / 700, xref="paper", yref="paper",
                    xanchor="center", yanchor="middle", showarrow=False,
                    font=dict(family=FONT, size=21.5, color=TEXT)))
    ann.append(dict(text=X_LABEL, x=xc, y=1 - 681 / 700, xref="paper", yref="paper",
                    xanchor="center", yanchor="middle", showarrow=False,
                    font=dict(family=FONT, size=21.5, color=TEXT)))
for r in range(3):
    yc = (ROW_DOMAIN[r][0] + ROW_DOMAIN[r][1]) / 2
    ann.append(dict(text=Y_LABELS[r], x=25 / 1151, y=yc, xref="paper", yref="paper",
                    xanchor="center", yanchor="middle", textangle=-90, showarrow=False,
                    font=dict(family=FONT, size=21.5, color=TEXT)))
layout["annotations"] = ann
fig.update_layout(**layout)
fig.write_html("out.html", post_script="document.body.style.margin='0px';")
